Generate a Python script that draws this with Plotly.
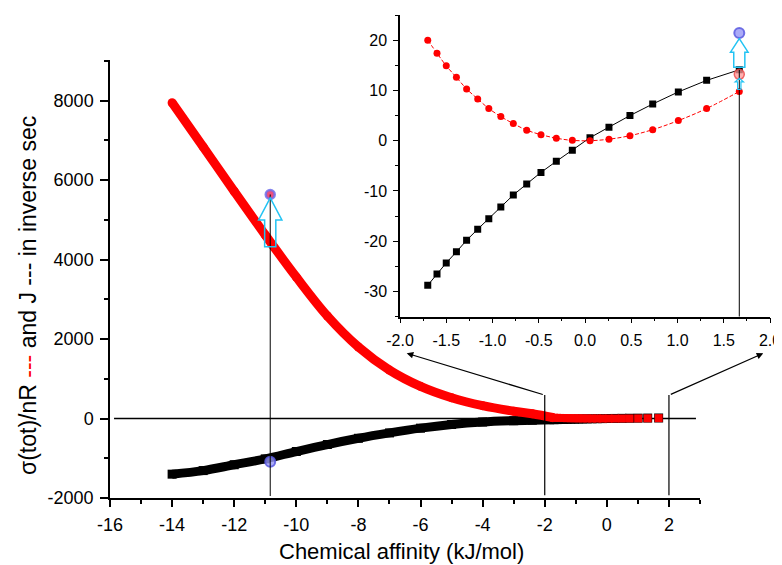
import plotly.graph_objects as go

# ---------------- data ----------------
# main panel: chemical affinity (kJ/mol) below the inset range
main_x = [-14, -13, -12, -11, -10, -9, -8, -7, -6, -5, -4, -3, -2.4]
main_sigma = [7950, 6840, 5720, 4620, 3560, 2580, 1800, 1220, 810, 525, 325, 185, 120]
main_J = [-1400, -1310, -1163, -1015, -830, -654, -497, -362, -242, -150, -88, -55, -42]

# inset panel points
inset_x = [-1.70, -1.60, -1.50, -1.39, -1.28, -1.16, -1.04, -0.91, -0.775, -0.63,
           -0.476, -0.31, -0.137, 0.054, 0.259, 0.486, 0.732, 1.009, 1.315, 1.668]
inset_sigma = [20.0, 17.4, 14.9, 12.6, 10.3, 8.3, 6.4, 4.8, 3.4, 2.1,
               1.2, 0.5, 0.07, 0.0, 0.3, 1.0, 2.2, 4.0, 6.4, 9.8]
inset_J = [-28.75, -26.5, -24.3, -22.1, -19.8, -17.6, -15.5, -13.2, -10.8, -8.6,
           -6.3, -4.1, -1.9, 0.6, 2.7, 5.0, 7.3, 9.7, 12.0, 14.1]

# highlighted points
hl_main_x = -10.84
hl_main_sigma = 5640
hl_main_J = -1090
hl_inset_x = 1.668
hl_inset_sigma = 13.2
hl_inset_top = 21.4

main_xticks = [-16, -14, -12, -10, -8, -6, -4, -2, 0, 2]
main_xtick_labels = ["-16", "-14", "-12", "-10", "-8", "-6", "-4", "-2", "0", "2"]
main_yticks = [-2000, 0, 2000, 4000, 6000, 8000]
main_ytick_labels = ["-2000", "0", "2000", "4000", "6000", "8000"]
inset_xticks = [-2.0, -1.5, -1.0, -0.5, 0.0, 0.5, 1.0, 1.5, 2.0]
inset_xtick_labels = ["-2.0", "-1.5", "-1.0", "-0.5", "0.0", "0.5", "1.0", "1.5", "2.0"]
inset_yticks = [-30, -20, -10, 0, 10, 20]
inset_ytick_labels = ["-30", "-20", "-10", "0", "10", "20"]

x_title = "Chemical affinity (kJ/mol)"
y_title = "σ(tot)/nR <span style='color:#ff0000'>---</span> and J --- in inverse sec"

# ---------------- figure ----------------
OFF = 8                     # page body margin
W, H = 782 - OFF, 565 - OFF
ML, MR, MT, MB = 110 - OFF, 12, 15 - OFF, 67
pw, ph = W - ML - MR, H - MT - MB


def px2paper_x(px):
    return (px - OFF - ML) / pw


def px2paper_y(py):
    return (H - MB - (py - OFF)) / ph


FONT = "Liberation Sans, Arial, sans-serif"
CYAN = "#22c3f3"
RED = "#ff0000"

fig = go.Figure()

# main black (J): thick band then dense markers
fig.add_trace(go.Scatter(
    x=main_x + inset_x[:1], y=main_J + inset_J[:1], mode="lines",
    line=dict(color="black", width=9, shape="spline"),
    xaxis="x", yaxis="y", showlegend=False, hoverinfo="skip"))
fig.add_trace(go.Scatter(
    x=main_x + inset_x, y=main_J + inset_J, mode="markers",
    marker=dict(symbol="square", size=9, color="black"),
    xaxis="x", yaxis="y", showlegend=False, hoverinfo="skip"))
# main red (sigma/nR)
fig.add_trace(go.Scatter(
    x=main_x + inset_x[:1], y=main_sigma + inset_sigma[:1], mode="lines",
    line=dict(color=RED, width=9, shape="spline"),
    xaxis="x", yaxis="y", showlegend=False, hoverinfo="skip"))
fig.add_trace(go.Scatter(
    x=main_x, y=main_sigma, mode="markers",
    marker=dict(symbol="circle", size=9, color=RED),
    xaxis="x", yaxis="y", showlegend=False, hoverinfo="skip"))
fig.add_trace(go.Scatter(
    x=inset_x, y=inset_sigma, mode="markers",
    marker=dict(symbol="square", size=8, color=RED),
    xaxis="x", yaxis="y", showlegend=False, hoverinfo="skip"))

# highlighted circles in main
fig.add_trace(go.Scatter(
    x=[hl_main_x], y=[hl_main_sigma], mode="markers",
    marker=dict(size=9, color="rgba(235,60,110,0.9)",
                line=dict(color="rgba(110,110,235,0.85)", width=2.5)),
    xaxis="x", yaxis="y", showlegend=False, hoverinfo="skip"))
fig.add_trace(go.Scatter(
    x=[hl_main_x], y=[hl_main_J], mode="markers",
    marker=dict(size=10, color="rgba(150,150,245,0.8)",
                line=dict(color="rgba(90,90,225,0.85)", width=2)),
    xaxis="x", yaxis="y", showlegend=False, hoverinfo="skip"))

# inset series
fig.add_trace(go.Scatter(
    x=inset_x, y=inset_J, mode="lines+markers",
    line=dict(color="black", width=1),
    marker=dict(symbol="square", size=7, color="black"),
    xaxis="x2", yaxis="y2", showlegend=False, hoverinfo="skip"))
fig.add_trace(go.Scatter(
    x=inset_x, y=inset_sigma, mode="lines+markers",
    line=dict(color=RED, width=1, dash="4px,2px", shape="spline"),
    marker=dict(symbol="circle", size=7, color=RED),
    xaxis="x2", yaxis="y2", showlegend=False, hoverinfo="skip"))
fig.add_trace(go.Scatter(
    x=[hl_inset_x], y=[hl_inset_sigma], mode="markers",
    marker=dict(size=10, color="rgba(255,150,150,0.75)",
                line=dict(color="rgba(235,70,70,0.8)", width=1.5)),
    xaxis="x2", yaxis="y2", showlegend=False, hoverinfo="skip"))
fig.add_trace(go.Scatter(
    x=[hl_inset_x], y=[hl_inset_top], mode="markers",
    marker=dict(size=10, color="rgba(150,150,245,0.8)",
                line=dict(color="rgba(90,90,225,0.85)", width=2)),
    xaxis="x2", yaxis="y2", showlegend=False, hoverinfo="skip"))

shapes = []
# zero line in main panel
shapes.append(dict(type="line", xref="x", yref="y", x0=-15.87, x1=2.87, y0=0, y1=0,
                   line=dict(color="black", width=1.5), layer="below"))
# vertical guide lines
shapes.append(dict(type="line", xref="x", yref="y", x0=hl_main_x, x1=hl_main_x,
                   y0=-1950, y1=hl_main_sigma, line=dict(color="black", width=1)))
for xv in (-2, 2):
    shapes.append(dict(type="line", xref="x", yref="y", x0=xv, x1=xv, y0=-1930, y1=590,
                       line=dict(color="black", width=1.2)))
shapes.append(dict(type="line", xref="x2", yref="y2", x0=hl_inset_x, x1=hl_inset_x,
                   y0=-35, y1=14.1, line=dict(color="black", width=1)))

# hollow cyan arrow (main)
bx, hx = 0.18, 0.375
y_b, y_h, y_t = 4324, 5000, 5554
c = hl_main_x
path = (f"M {c-bx},{y_b} L {c+bx},{y_b} L {c+bx},{y_h} L {c+hx},{y_h} "
        f"L {c},{y_t} L {c-hx},{y_h} L {c-bx},{y_h} Z")
shapes.append(dict(type="path", xref="x", yref="y", path=path,
                   line=dict(color=CYAN, width=1.5), fillcolor="rgba(0,0,0,0)"))
# hollow cyan arrow (inset, big)
bx2, hx2 = 0.06, 0.095
y_b2, y_h2, y_t2 = 14.6, 17.6, 20.3
c2 = hl_inset_x
path2 = (f"M {c2-bx2},{y_b2} L {c2+bx2},{y_b2} L {c2+bx2},{y_h2} L {c2+hx2},{y_h2} "
         f"L {c2},{y_t2} L {c2-hx2},{y_h2} L {c2-bx2},{y_h2} Z")
shapes.append(dict(type="path", xref="x2", yref="y2", path=path2,
                   line=dict(color=CYAN, width=1.5), fillcolor="rgba(0,0,0,0)"))
# small cyan arrow (inset)
bx3, hx3 = 0.018, 0.045
y_b3, y_h3, y_t3 = 10.2, 11.7, 12.4
path3 = (f"M {c2-bx3},{y_b3} L {c2+bx3},{y_b3} L {c2+bx3},{y_h3} L {c2+hx3},{y_h3} "
         f"L {c2},{y_t3} L {c2-hx3},{y_h3} L {c2-bx3},{y_h3} Z")
shapes.append(dict(type="path", xref="x2", yref="y2", path=path3,
                   line=dict(color=CYAN, width=1.2), fillcolor="rgba(0,0,0,0)"))

annotations = []
# zoom arrows pointing to the inset
annotations.append(dict(x=px2paper_x(406.7), y=px2paper_y(353.3), xref="paper", yref="paper",
                        ax=137.6, ay=41.7, axref="pixel", ayref="pixel", text="",
                        showarrow=True, arrowhead=2, arrowsize=1.1, arrowwidth=1.2,
                        arrowcolor="black", standoff=0))
annotations.append(dict(x=px2paper_x(763.3), y=px2paper_y(353.3), xref="paper", yref="paper",
                        ax=-94, ay=41.7, axref="pixel", ayref="pixel", text="",
                        showarrow=True, arrowhead=2, arrowsize=1.1, arrowwidth=1.2,
                        arrowcolor="black", standoff=0))
# axis titles
annotations.append(dict(x=px2paper_x(401), y=px2paper_y(551), xref="paper", yref="paper",
                        text=x_title, showarrow=False, xanchor="center", yanchor="middle",
                        font=dict(family=FONT, size=22, color="black")))
annotations.append(dict(x=px2paper_x(28), y=px2paper_y(296), xref="paper", yref="paper",
                        text=y_title, showarrow=False, textangle=-90,
                        xanchor="center", yanchor="middle",
                        font=dict(family=FONT, size=23, color="black")))

tickfont_main = dict(family=FONT, size=18, color="black")
tickfont_inset = dict(family=FONT, size=16, color="black")

fig.update_layout(
    width=W, height=H, template="none",
    margin=dict(l=ML, r=MR, t=MT, b=MB, pad=0),
    paper_bgcolor="white", plot_bgcolor="rgba(0,0,0,0)",
    showlegend=False, shapes=shapes, annotations=annotations,
    xaxis=dict(domain=[0, px2paper_x(700)], range=[-16, 3], anchor="y",
               showline=True, linecolor="black", linewidth=1.5, showgrid=False,
               zeroline=False, ticks="outside", ticklen=7, tickwidth=1.5, tickcolor="black",
               tickmode="array", tickvals=main_xticks, ticktext=main_xtick_labels,
               tickfont=tickfont_main, automargin=False, ticklabelstandoff=3,
               minor=dict(ticks="outside", dtick=1, tick0=0, ticklen=4, tickwidth=1.5,
                          tickcolor="black", showgrid=False)),
    yaxis=dict(domain=[0, px2paper_y(60)], range=[-2000, 9025], anchor="x",
               showline=True, linecolor="black", linewidth=1.5, showgrid=False,
               zeroline=False, ticks="outside", ticklen=8, tickwidth=1.5, tickcolor="black",
               tickmode="array", tickvals=main_yticks, ticktext=main_ytick_labels,
               tickfont=tickfont_main, automargin=False, ticklabelstandoff=3,
               minor=dict(ticks="outside", dtick=1000, tick0=0, ticklen=4, tickwidth=1.5,
                          tickcolor="black", showgrid=False)),
    xaxis2=dict(domain=[px2paper_x(400), 1], range=[-2, 2], anchor="y2",
                showline=True, linecolor="black", linewidth=1.5, showgrid=False,
                zeroline=False, ticks="outside", ticklen=5, tickwidth=1.2, tickcolor="black",
                tickmode="array", tickvals=inset_xticks, ticktext=inset_xtick_labels,
                tickfont=tickfont_inset, automargin=False, ticklabelstandoff=3,
                minor=dict(ticks="outside", dtick=0.25, tick0=0, ticklen=3, tickwidth=1.2,
                           tickcolor="black", showgrid=False)),
    yaxis2=dict(domain=[px2paper_y(316.7), px2paper_y(15)], range=[-35, 25], anchor="x2",
                showline=True, linecolor="black", linewidth=1.5, showgrid=False,
                zeroline=False, ticks="outside", ticklen=5, tickwidth=1.2, tickcolor="black",
                tickmode="array", tickvals=inset_yticks, ticktext=inset_ytick_labels,
                tickfont=tickfont_inset, automargin=False, ticklabelstandoff=3,
                minor=dict(ticks="outside", dtick=5, tick0=0, ticklen=3, tickwidth=1.2,
                           tickcolor="black", showgrid=False)),
)

fig.write_html("out.html")
